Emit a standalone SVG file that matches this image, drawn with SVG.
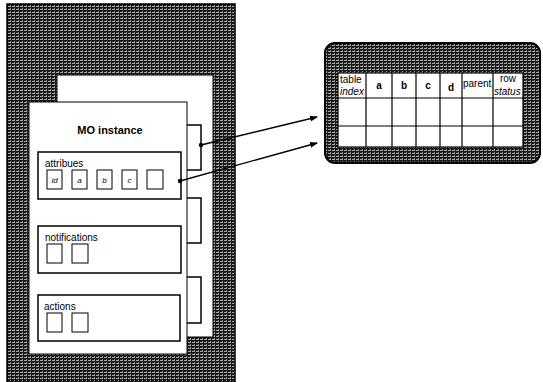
<svg xmlns="http://www.w3.org/2000/svg" width="543" height="382" viewBox="0 0 543 382">
  <defs>
    <pattern id="tex" width="4" height="3" patternUnits="userSpaceOnUse">
      <rect width="4" height="3" fill="#1a1a1a"/>
      <rect x="0" y="0" width="3" height="1" fill="#a8a8a8"/>
      <rect x="2" y="2" width="1" height="1" fill="#8a8a8a"/>
    </pattern>
    <marker id="arr" markerWidth="8" markerHeight="8" refX="7" refY="4" orient="auto" markerUnits="userSpaceOnUse">
      <path d="M0,1 L8,4 L0,7 Z" fill="#000"/>
    </marker>
    <style>
      .box { fill: #fff; stroke: #000; stroke-width: 1.5; }
      .panel { fill: #fff; stroke: #000; stroke-width: 1; }
      .small { fill: #fff; stroke: #000; stroke-width: 1; }
      .lbl { font-family: "Liberation Sans", Arial, sans-serif; font-size: 10px; fill: #000; }
      .it { font-family: "Liberation Sans", Arial, sans-serif; font-size: 8px; font-style: italic; fill: #000; text-anchor: middle; }
      .hd { font-family: "Liberation Sans", Arial, sans-serif; font-size: 10px; fill: #000; }
      .hdc { font-family: "Liberation Sans", Arial, sans-serif; font-size: 10px; font-weight: bold; fill: #000; text-anchor: middle; }
      .conn { stroke: #000; stroke-width: 1.3; fill: none; }
      .tline { stroke: #000; stroke-width: 1.2; }
    </style>
  </defs>

  <g id="mo-class">
    <rect x="7" y="4" width="228" height="378" fill="url(#tex)" stroke="#000" stroke-width="1.5"/>
  </g>

  <g id="back-instance">
    <rect class="panel" x="57" y="75" width="156" height="262"/>
    <rect class="box" x="170" y="125" width="31" height="45"/>
    <rect class="box" x="170" y="198" width="31" height="45"/>
    <rect class="box" x="170" y="277" width="31" height="46"/>
  </g>

  <g id="mo-instance">
    <rect class="panel" x="29" y="102" width="158" height="252"/>
    <text x="110" y="134" text-anchor="middle" font-family="Liberation Sans, Arial, sans-serif" font-size="11" font-weight="bold">MO instance</text>
  </g>

  <g id="attributes">
    <rect class="box" x="38" y="152" width="143" height="47"/>
    <text class="lbl" x="45" y="167">attribues</text>
    <rect class="small" x="47" y="170" width="15" height="19"/>
    <text class="it" x="54.5" y="183">id</text>
    <rect class="small" x="72" y="170" width="15" height="19"/>
    <text class="it" x="79.5" y="183">a</text>
    <rect class="small" x="97" y="170" width="15" height="19"/>
    <text class="it" x="104.5" y="183">b</text>
    <rect class="small" x="122" y="170" width="15" height="19"/>
    <text class="it" x="129.5" y="183">c</text>
    <rect class="small" x="147" y="170" width="16" height="19"/>
  </g>

  <g id="notifications">
    <rect class="box" x="38" y="226" width="143" height="47"/>
    <text class="lbl" x="45" y="241">notifications</text>
    <rect class="small" x="47" y="244" width="15" height="19"/>
    <rect class="small" x="72" y="244" width="16" height="19"/>
  </g>

  <g id="actions">
    <rect class="box" x="38" y="295" width="142" height="46"/>
    <text class="lbl" x="44" y="310">actions</text>
    <rect class="small" x="47" y="313" width="15" height="19"/>
    <rect class="small" x="72" y="313" width="16" height="19"/>
  </g>

  <g id="table">
    <rect x="325" y="43" width="215" height="120" rx="10" ry="10" fill="url(#tex)" stroke="#000" stroke-width="2"/>
    <rect x="338" y="73" width="185" height="74" fill="#fff" stroke="#000" stroke-width="1.2"/>
    <line class="tline" x1="338" y1="98" x2="523" y2="98"/>
    <line class="tline" x1="338" y1="126" x2="523" y2="126"/>
    <line class="tline" x1="366" y1="73" x2="366" y2="147"/>
    <line class="tline" x1="392" y1="73" x2="392" y2="147"/>
    <line class="tline" x1="416" y1="73" x2="416" y2="147"/>
    <line class="tline" x1="440" y1="73" x2="440" y2="147"/>
    <line class="tline" x1="462" y1="73" x2="462" y2="147"/>
    <line class="tline" x1="493" y1="73" x2="493" y2="147"/>
    <text class="hd" x="340" y="83">table</text>
    <text class="hd" x="340" y="95" font-style="italic">index</text>
    <text class="hdc" x="379" y="89">a</text>
    <text class="hdc" x="404" y="89">b</text>
    <text class="hdc" x="428" y="89">c</text>
    <text class="hdc" x="451" y="91">d</text>
    <text class="hd" x="463" y="87">parent</text>
    <text class="hd" x="508" y="82" text-anchor="middle">row</text>
    <text class="hd" x="494" y="95" font-style="italic">status</text>
  </g>

  <g id="connectors">
    <circle cx="201" cy="145" r="2.2" fill="#000"/>
    <line class="conn" x1="201" y1="145" x2="317" y2="117" marker-end="url(#arr)"/>
    <circle cx="180" cy="181" r="2.2" fill="#000"/>
    <line class="conn" x1="180" y1="181" x2="317" y2="143" marker-end="url(#arr)"/>
  </g>
</svg>
